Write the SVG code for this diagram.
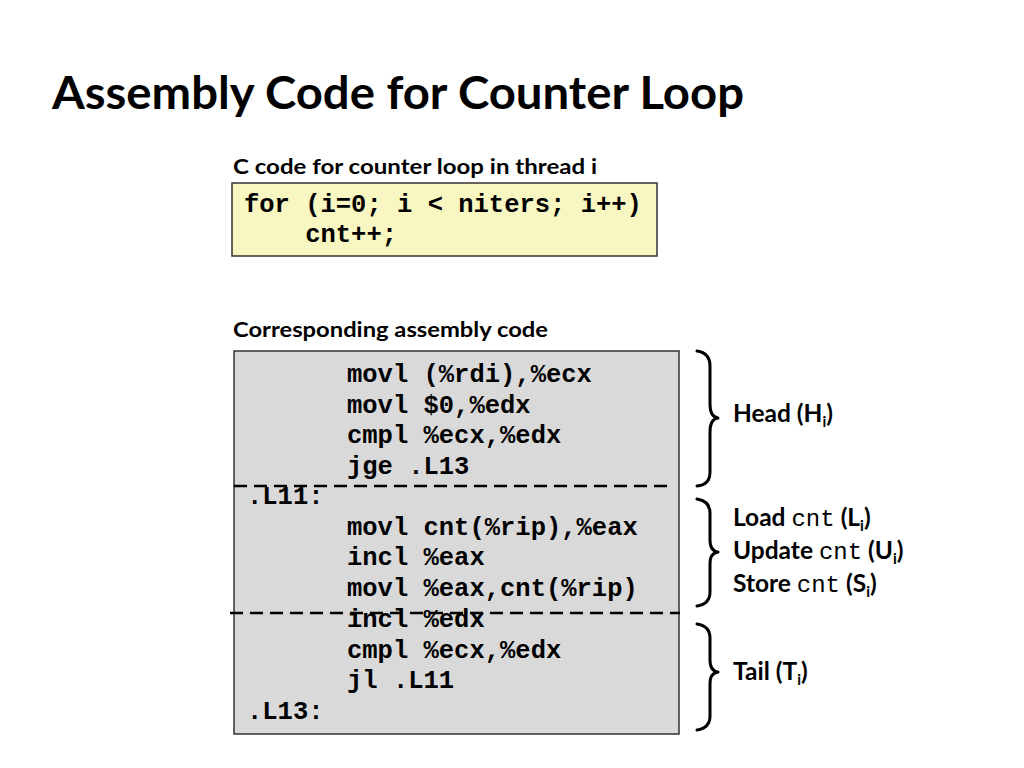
<svg xmlns="http://www.w3.org/2000/svg" width="1024" height="768" viewBox="0 0 1024 768">
<style>
.title{font-family:Lato,"Open Sans","Liberation Sans",sans-serif;font-weight:bold;font-size:46px;fill:#000}
.cap{font-family:Lato,"Open Sans","Liberation Sans",sans-serif;font-weight:bold;font-size:21px;fill:#000}
.code{font-family:"Liberation Mono","DejaVu Sans Mono",monospace;font-weight:bold;font-size:25.5px;fill:#000}
.lbl{font-family:Lato,"Open Sans","Liberation Sans",sans-serif;font-weight:bold;font-size:24.5px;fill:#000}
.mono{font-family:"Liberation Mono","DejaVu Sans Mono",monospace;font-weight:normal;font-size:24px}
.sub{font-size:15px}
.brace{fill:none;stroke:#000;stroke-width:3;stroke-linecap:round;stroke-linejoin:round}
.dash{stroke:#000;stroke-width:2.5;stroke-dasharray:13 7;fill:none}
</style>
<rect width="1024" height="768" fill="#fff"/>
<text class="title" x="52" y="109" textLength="692" lengthAdjust="spacingAndGlyphs">Assembly Code for Counter Loop</text>

<g id="ccode">
<text class="cap" x="233" y="174" textLength="364" lengthAdjust="spacingAndGlyphs">C code for counter loop in thread i</text>
<rect x="232" y="183" width="425" height="73" fill="#f8f6c1" stroke="#333" stroke-width="1.5"/>
<text class="code" x="244" y="212" xml:space="preserve">for (i=0; i &lt; niters; i++)</text>
<text class="code" x="244" y="242" xml:space="preserve">    cnt++;</text>
</g>

<g id="asm">
<text class="cap" x="233" y="337" textLength="315" lengthAdjust="spacingAndGlyphs">Corresponding assembly code</text>
<rect x="234" y="351" width="445" height="383" fill="#d9d9d9" stroke="#333" stroke-width="1.5"/>
<text class="code" x="347" y="382">movl (%rdi),%ecx</text>
<text class="code" x="347" y="413">movl $0,%edx</text>
<text class="code" x="347" y="443">cmpl %ecx,%edx</text>
<text class="code" x="347" y="474">jge .L13</text>
<text class="code" x="247" y="504">.L11:</text>
<text class="code" x="347" y="535">movl cnt(%rip),%eax</text>
<text class="code" x="347" y="565">incl %eax</text>
<text class="code" x="347" y="596">movl %eax,cnt(%rip)</text>
<text class="code" x="347" y="627">incl %edx</text>
<text class="code" x="347" y="658">cmpl %ecx,%edx</text>
<text class="code" x="347" y="688">jl .L11</text>
<text class="code" x="247" y="719">.L13:</text>
</g>

<g id="connectors">
<line class="dash" x1="234" y1="486" x2="674" y2="486"/>
<line class="dash" x1="230" y1="613" x2="680" y2="613"/>
<path class="brace" d="M697,351 Q710,353 710,366 L710,404 Q710,417 718,418 Q710,419 710,432 L710,472 Q710,485 697,486"/>
<path class="brace" d="M697,499 Q710,501 710,513 L710,540 Q710,551 718,552 Q710,553 710,564 L710,592 Q710,604 697,606"/>
<path class="brace" d="M697,624 Q710,626 710,638 L710,660 Q710,671 718,672 Q710,673 710,684 L710,716 Q710,728 697,730"/>
</g>

<g id="head">
<text class="lbl" x="733" y="422">Head (H<tspan class="sub" dy="5">i</tspan><tspan dy="-5">)</tspan></text>
</g>
<g id="body">
<text class="lbl" x="733" y="526">Load <tspan class="mono">cnt</tspan> (L<tspan class="sub" dy="5">i</tspan><tspan dy="-5">)</tspan></text>
<text class="lbl" x="733" y="559">Update <tspan class="mono">cnt</tspan> (U<tspan class="sub" dy="5">i</tspan><tspan dy="-5">)</tspan></text>
<text class="lbl" x="733" y="592">Store <tspan class="mono">cnt</tspan> (S<tspan class="sub" dy="5">i</tspan><tspan dy="-5">)</tspan></text>
</g>
<g id="tail">
<text class="lbl" x="733" y="680">Tail (T<tspan class="sub" dy="5">i</tspan><tspan dy="-5">)</tspan></text>
</g>
</svg>
